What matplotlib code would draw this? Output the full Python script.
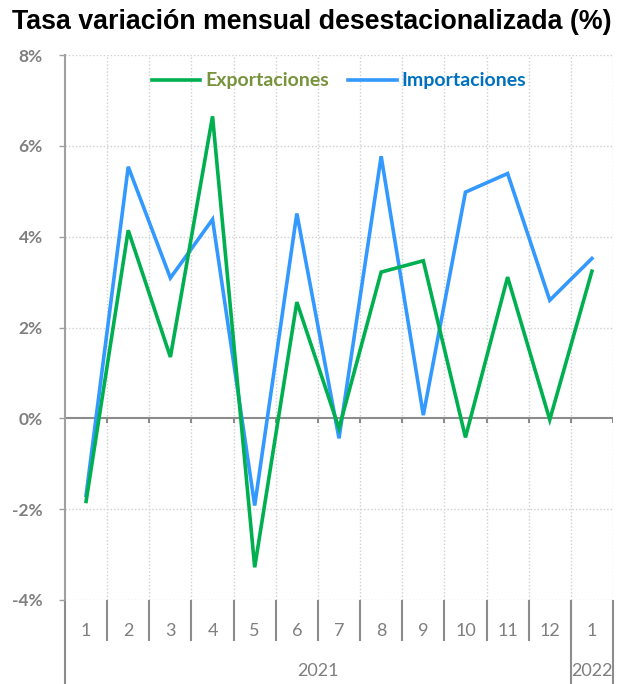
import matplotlib
matplotlib.use("Agg")
import matplotlib.pyplot as plt
import matplotlib.transforms as mtransforms

months = ["1", "2", "3", "4", "5", "6", "7", "8", "9", "10", "11", "12", "1"]
years = ["2021", "2022"]
year_counts = [12, 1]
exportaciones = [-1.83, 4.14, 1.35, 6.65, -3.28, 2.56, -0.22, 3.22, 3.47, -0.42, 3.11, -0.03, 3.24]
importaciones = [-1.70, 5.54, 3.09, 4.38, -1.92, 4.51, -0.44, 5.77, 0.07, 4.98, 5.39, 2.60, 3.52]
yticks = [-4, -2, 0, 2, 4, 6, 8]

W, H = 624, 684
fig = plt.figure(figsize=(W / 100, H / 100), dpi=100)
L, R, T, B = 65, 613, 55, 600
ax = fig.add_axes([L / W, 1 - B / H, (R - L) / W, (B - T) / H])

n = len(months)
x = [i + 0.5 for i in range(n)]
green = "#00B050"
blue = "#3399FF"
gray = "#7F7F7F"
grid_c = "#D0D0D0"

ax.set_xlim(0, n)
ax.set_ylim(-4, 8)

# grid
for yv in yticks:
    if yv != 0:
        ax.axhline(yv, color=grid_c, lw=1, ls=(0, (1, 1.5)), zorder=1)
for i in range(1, n + 1):
    ax.axvline(i, color=grid_c, lw=1, ls=(0, (1, 1.5)), zorder=1)

# zero line with ticks
ax.axhline(0, color="#8C8C8C", lw=1.5, zorder=2)
for i in range(1, n + 1):
    ax.plot([i, i], [0, -0.1], color="#8C8C8C", lw=1.5, zorder=2, solid_capstyle="butt")

l1, = ax.plot(x, exportaciones, color=green, lw=2.6, label="Exportaciones", zorder=4,
              solid_joinstyle="miter")
l2, = ax.plot(x, importaciones, color=blue, lw=2.6, label="Importaciones", zorder=3,
              solid_joinstyle="miter")

for s in ["top", "right", "bottom"]:
    ax.spines[s].set_visible(False)
ax.spines["left"].set_color("#A0A0A0")
ax.spines["left"].set_linewidth(1.5)

ax.set_yticks(yticks)
ax.set_yticklabels([f"{v}%" for v in yticks], fontfamily="Lato",
                   fontweight="bold", fontsize=12.5, color=gray)
ax.tick_params(axis="y", length=4, width=1, color="#A0A0A0", pad=12)
ax.set_xticks([])

# category axis below
tr = mtransforms.blended_transform_factory(ax.transData, ax.transAxes)
axh = B - T
def ay(px):
    return -(px - B) / axh

for i in range(1, n):
    ax.plot([i, i], [ay(600), ay(641)], transform=tr, color="#8C8C8C", lw=1.5,
            clip_on=False, solid_capstyle="butt")
for i, m in enumerate(months):
    ax.text(i + 0.5, ay(631), m, transform=tr, ha="center", va="center",
            fontfamily="Lato", fontsize=13, color=gray, clip_on=False)

start = 0
bounds = [0]
for c in year_counts:
    start += c
    bounds.append(start)
for b in bounds:
    ax.plot([b, b], [ay(600), ay(690)], transform=tr, color="#8C8C8C", lw=1.5,
            clip_on=False, solid_capstyle="butt")
for k, yr in enumerate(years):
    ax.text((bounds[k] + bounds[k + 1]) / 2, ay(671), yr, transform=tr, ha="center",
            va="center", fontfamily="Lato", fontsize=13, color=gray, clip_on=False)

leg = ax.legend(loc="upper center", bbox_to_anchor=(0.5, 1.0), ncol=2, frameon=False,
                prop={"family": "Lato", "weight": "bold", "size": 14},
                handlelength=2.5, handletextpad=0.25, columnspacing=1.0)
leg.get_texts()[0].set_color("#77933C")
leg.get_texts()[1].set_color("#0070C0")

fig.text(0.5, 1 - 22 / H, "Tasa variación mensual desestacionalizada (%)", ha="center",
         va="center", fontfamily="Liberation Sans", fontweight="bold", fontsize=19.3,
         color="black")

fig.savefig("out.png", dpi=100)
